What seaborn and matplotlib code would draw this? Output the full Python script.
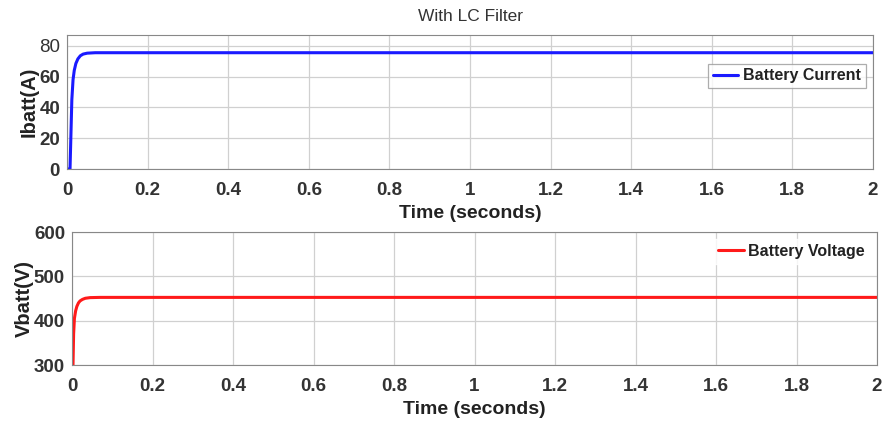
import numpy as np
import pandas as pd
import matplotlib
matplotlib.use("Agg")
import matplotlib.pyplot as plt
import seaborn as sns

# Data
time_i = [0.0, 0.0075, 0.010, 0.012, 0.015, 0.018, 0.022, 0.027, 0.033, 0.040, 0.050, 0.070, 0.100, 2.0]
current = [0.0, 0.0, 25.0, 45.0, 58.0, 64.0, 68.5, 71.5, 73.5, 74.6, 75.2, 75.5, 75.5, 75.5]
time_v = [0.0, 0.0025, 0.004, 0.006, 0.009, 0.012, 0.016, 0.020, 0.026, 0.033, 0.045, 0.070, 0.100, 2.0]
voltage = [300.0, 300.0, 370.0, 405.0, 422.0, 432.0, 440.0, 444.5, 448.0, 450.5, 452.0, 452.5, 452.5, 452.5]
x_ticks = [0, 0.2, 0.4, 0.6, 0.8, 1, 1.2, 1.4, 1.6, 1.8, 2]
x_ticklabels = ["0", "0.2", "0.4", "0.6", "0.8", "1", "1.2", "1.4", "1.6", "1.8", "2"]
yi_ticks = [0, 20, 40, 60, 80]
yv_ticks = [300, 400, 500, 600]

sns.set_style("whitegrid")
plt.rcParams['font.family'] = ['Liberation Sans', 'DejaVu Sans']

df_i = pd.DataFrame({"t": time_i, "I": current})
df_v = pd.DataFrame({"t": time_v, "V": voltage})

fig = plt.figure(figsize=(8.82, 4.23), dpi=100)
ax1 = fig.add_axes([67/882, 1-169/423, (873-67)/882, (169-35)/423])
ax2 = fig.add_axes([72/882, 1-365/423, (877-72)/882, (365-232)/423])

sns.lineplot(data=df_i, x="t", y="I", ax=ax1, color="#1a1aff", linewidth=2.2, label="Battery Current")
sns.lineplot(data=df_v, x="t", y="V", ax=ax2, color="#ff1a1a", linewidth=2.2, label="Battery Voltage")

for ax in (ax1, ax2):
    ax.set_xlim(0, 2)
    ax.set_xticks(x_ticks)
    ax.set_xticklabels(x_ticklabels)
    ax.grid(True, color="#d0d0d0", linewidth=0.9)
    for s in ax.spines.values():
        s.set_color("#888888")
        s.set_linewidth(0.8)
    ax.tick_params(axis="both", labelsize=13.5, colors="#333333", length=4,
                   direction="in", width=0.8)
    ax.tick_params(axis="x", pad=9)
    ax.tick_params(axis="y", pad=5)
    ax.tick_params(axis="both", color="#888888")
    for lab in ax.get_xticklabels() + ax.get_yticklabels():
        lab.set_fontweight("bold")
    ax.set_xlabel("Time (seconds)", fontsize=14, fontweight="bold", color="#222222", labelpad=5)

ax1.set_ylim(0, 87)
ax1.set_yticks(yi_ticks)
ax1.set_ylabel("Ibatt(A)", fontsize=14.5, fontweight="bold", color="#222222", labelpad=0)
ax2.set_ylim(300, 600)
ax2.set_yticks(yv_ticks)
ax2.set_ylabel("Vbatt(V)", fontsize=14.5, fontweight="bold", color="#222222", labelpad=0)

ax1.set_title("With LC Filter", fontsize=12.5, color="#333333", pad=10)

leg1 = ax1.legend(loc="upper right", bbox_to_anchor=(1.0, 0.84), fontsize=11.5, frameon=True,
                  fancybox=False, handlelength=1.6, handletextpad=0.3, borderpad=0.3,
                  borderaxespad=0.45)
leg1.get_frame().set_edgecolor("#999999")
leg1.get_frame().set_linewidth(0.9)
for t in leg1.get_texts():
    t.set_fontweight("bold"); t.set_color("#222222")
leg2 = ax2.legend(loc="upper right", bbox_to_anchor=(1.0, 1.0), fontsize=11.5, frameon=True,
                  fancybox=False, handlelength=1.6, handletextpad=0.3, borderpad=0.3,
                  borderaxespad=0.45)
leg2.get_frame().set_edgecolor("white")
for t in leg2.get_texts():
    t.set_fontweight("bold"); t.set_color("#222222")

fig.savefig("out.png", dpi=100)
